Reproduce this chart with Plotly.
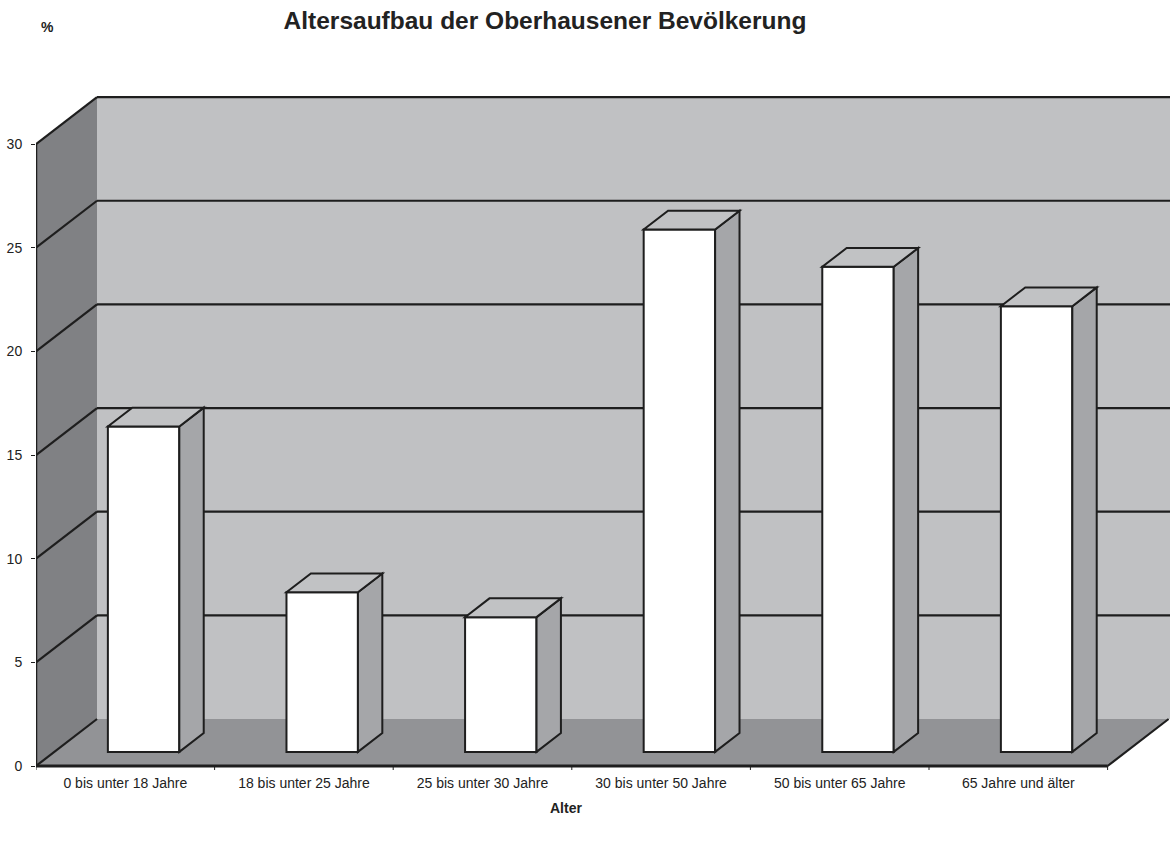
import plotly.graph_objects as go

# ---- data ----
categories = ["0 bis unter 18 Jahre", "18 bis unter 25 Jahre", "25 bis unter 30 Jahre",
              "30 bis unter 50 Jahre", "50 bis unter 65 Jahre", "65 Jahre und älter"]
values = [15.7, 7.7, 6.5, 25.2, 23.4, 21.5]
y_ticks = [0, 5, 10, 15, 20, 25, 30]

title_text = "Altersaufbau der Oberhausener Bevölkerung"
y_title = "%"
x_title = "Alter"

# ---- geometry (pseudo-3D) ----
W, H = 1170, 847
L, R, T, B = 36, 0, 90, 77
PX_PER_CAT = 178.6
PX_PER_VAL = 20.73
DEPTH_PX_X, DEPTH_PX_Y = 61, 47
DX = DEPTH_PX_X / PX_PER_CAT          # depth offset in x data units
DY = DEPTH_PX_Y / PX_PER_VAL          # depth offset in y data units
x_max = (W - L - R) / PX_PER_CAT
y_min = -4 / PX_PER_VAL
y_max = y_min + (H - T - B) / PX_PER_VAL
YMAX = max(y_ticks)
N = len(categories)
D0, D1 = 0.3, 0.7                     # bar depth range
BW = 0.4                              # bar width (category units)

C_BACK = "#c0c1c3"
C_LEFT = "#808184"
C_FLOOR = "#929396"
C_SIDE = "#a5a6a9"
C_TOP = "#c1c2c4"
C_LINE = "#1e1e1e"
FONT = "Liberation Sans, Arial, sans-serif"


def path(pts):
    return "M " + " L ".join(f"{x:.5f},{y:.5f}" for x, y in pts) + " Z"


def seg(x0, y0, x1, y1, w=2.2, layer="below"):
    return dict(type="line", xref="x", yref="y", x0=x0, y0=y0, x1=x1, y1=y1,
                line=dict(color=C_LINE, width=w), layer=layer)


shapes = []
# back wall
shapes.append(dict(type="path", xref="x", yref="y", layer="below",
                   path=path([(DX, DY), (DX, YMAX + DY), (x_max + 1, YMAX + DY), (x_max + 1, DY)]),
                   fillcolor=C_BACK, line=dict(width=0)))
# left wall
shapes.append(dict(type="path", xref="x", yref="y", layer="below",
                   path=path([(0, 0), (0, YMAX), (DX, YMAX + DY), (DX, DY)]),
                   fillcolor=C_LEFT, line=dict(width=0)))
# floor
shapes.append(dict(type="path", xref="x", yref="y", layer="below",
                   path=path([(0, 0), (N, 0), (N + DX, DY), (DX, DY)]),
                   fillcolor=C_FLOOR, line=dict(width=0)))
# gridlines
for v in y_ticks[1:]:
    shapes.append(seg(0, v, DX, v + DY))
    shapes.append(seg(DX, v + DY, x_max + 1, v + DY))
# edges
shapes.append(seg(0, 0, 0, YMAX, w=2.5))
shapes.append(seg(0, 0, DX, DY))
shapes.append(seg(N, 0, N + DX, DY))
shapes.append(seg(0, 0, N, 0, w=3))
# category boundary ticks
for i in range(N + 1):
    shapes.append(seg(i, 0, i, -0.25, w=1, layer="above"))

# bar side and top faces
ddx = (D1 - D0) * DX
ddy = (D1 - D0) * DY
base = D0 * DY
for i, v in enumerate(values):
    xc = i + 0.5 + D0 * DX
    xl, xr = xc - BW / 2, xc + BW / 2
    top = base + v
    shapes.append(dict(type="path", xref="x", yref="y", layer="above",
                       path=path([(xr, base), (xr, top), (xr + ddx, top + ddy), (xr + ddx, base + ddy)]),
                       fillcolor=C_SIDE, line=dict(color=C_LINE, width=2)))
    shapes.append(dict(type="path", xref="x", yref="y", layer="above",
                       path=path([(xl, top), (xr, top), (xr + ddx, top + ddy), (xl + ddx, top + ddy)]),
                       fillcolor=C_TOP, line=dict(color=C_LINE, width=2)))

fig = go.Figure()
fig.add_trace(go.Bar(
    x=[i + 0.5 + D0 * DX for i in range(N)],
    y=values,
    base=base,
    width=BW,
    marker=dict(color="white", line=dict(color=C_LINE, width=2)),
    hoverinfo="skip",
))

fig.update_layout(
    width=W, height=H,
    margin=dict(l=L, r=R, t=T, b=B, pad=0),
    paper_bgcolor="white", plot_bgcolor="white",
    showlegend=False,
    shapes=shapes,
    font=dict(family=FONT, size=14, color="#222222"),
    title=dict(text=f"<b>{title_text}</b>", xref="container", yref="container",
               x=545 / W, y=1 - 20 / H, xanchor="center", yanchor="middle",
               font=dict(family=FONT, size=24.5, color="#222222")),
    xaxis=dict(range=[0, x_max], showgrid=False, zeroline=False, showline=False,
               tickvals=[i + 0.5 for i in range(N)], ticktext=categories,
               ticks="", tickfont=dict(size=14, color="#222222"), ticklabelstandoff=3,
               fixedrange=True),
    yaxis=dict(range=[y_min, y_max], showgrid=False, zeroline=False, showline=False,
               tickvals=y_ticks, ticks="outside", ticklen=4, tickcolor=C_LINE, tickwidth=1,
               tickfont=dict(size=14, color="#222222"), ticklabelstandoff=6, fixedrange=True),
    annotations=[
        dict(text=f"<b>{y_title}</b>", xref="paper", yref="paper",
             x=(47 - L) / (W - L - R), y=(H - B - 27) / (H - T - B),
             showarrow=False, xanchor="center", yanchor="middle",
             font=dict(family=FONT, size=14, color="#222222")),
        dict(text=f"<b>{x_title}</b>", xref="paper", yref="paper",
             x=(566 - L) / (W - L - R), y=(H - B - 808) / (H - T - B),
             showarrow=False, xanchor="center", yanchor="middle",
             font=dict(family=FONT, size=14, color="#222222")),
    ],
)

fig.write_html("out.html")
